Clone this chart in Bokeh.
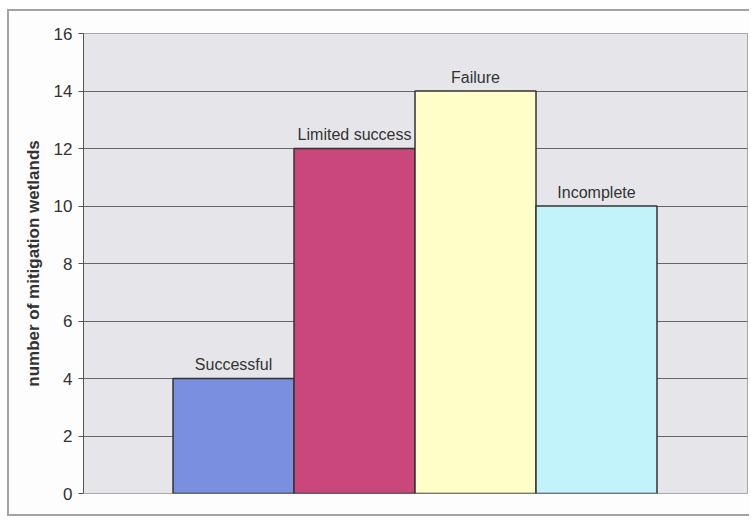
from bokeh.plotting import figure
from bokeh.models import ColumnDataSource, Range1d
from bokeh.core.properties import value
from bokeh.embed import file_html
from bokeh.resources import INLINE

# data
categories = ["Successful", "Limited success", "Failure", "Incomplete"]
counts = [4, 12, 14, 10]
bar_colors = ["#7b8fe0", "#c9477b", "#fffdc8", "#c2f3fb"]
y_ticks = [0, 2, 4, 6, 8, 10, 12, 14, 16]

src = ColumnDataSource(dict(
    x=list(range(len(categories))),
    top=counts,
    label=categories,
    color=bar_colors,
))

p = figure(width=742, height=507, output_backend="svg", toolbar_location=None,
           x_range=Range1d(-1.24, 4.248), y_range=Range1d(0, 16),
           min_border_left=74, min_border_right=4, min_border_top=22, min_border_bottom=25)
p.margin = (9, 0, 0, 7)
p.styles = {"border-top": "2px solid #a4a4a4", "border-left": "2px solid #a4a4a4",
            "border-bottom": "2px solid #a4a4a4"}

p.background_fill_color = "#e6e6ea"
p.border_fill_color = "#fdfdfd"
p.outline_line_color = "#a8a8a8"
p.outline_line_width = 1

p.vbar(x="x", top="top", bottom=0, width=1.0, source=src, fill_color="color",
       line_color="#333333", line_width=1.5)

p.text(x="x", y="top", text="label", source=src, text_align="center",
       text_baseline="alphabetic", y_offset=-14, text_font=value("Liberation Sans"),
       text_font_size="16px", text_color="#333333")

p.xaxis.visible = False
p.xgrid.grid_line_color = None
p.ygrid.grid_line_color = "#666666"
p.ygrid.grid_line_width = 1

ya = p.yaxis[0]
ya.ticker = y_ticks
ya.axis_label = "number of mitigation wetlands"
ya.axis_label_text_font = "Liberation Sans"
ya.axis_label_text_font_style = "bold"
ya.axis_label_text_font_size = "17px"
ya.axis_label_text_color = "#333333"
ya.axis_label_standoff = 8
ya.major_label_text_font = "Liberation Sans"
ya.major_label_text_font_size = "17px"
ya.major_label_text_color = "#333333"
ya.major_label_standoff = 6
ya.major_tick_in = 0
ya.major_tick_out = 5
ya.minor_tick_line_color = None
ya.axis_line_color = "#555555"
ya.major_tick_line_color = "#555555"

open("out.html", "w").write(file_html(p, INLINE))
